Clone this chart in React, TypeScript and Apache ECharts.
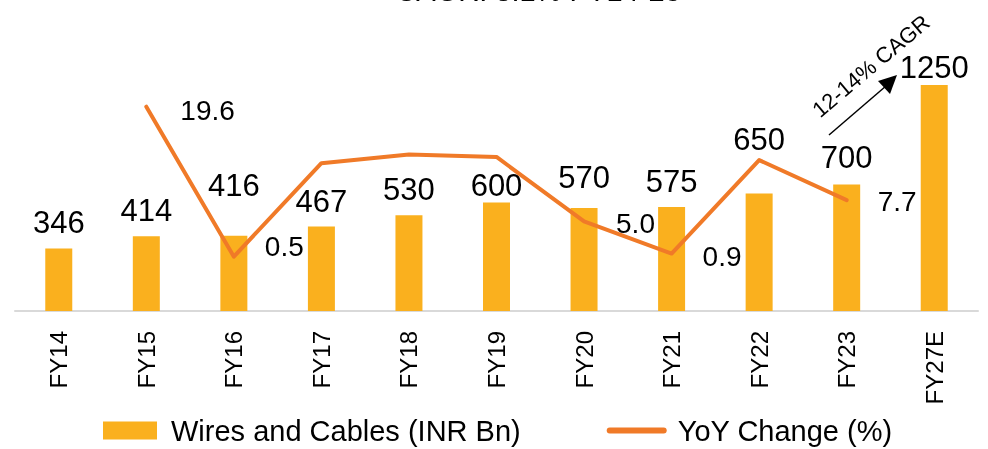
import React, { useEffect, useRef } from "react";
import * as echarts from "echarts";

const categories = ["FY14", "FY15", "FY16", "FY17", "FY18", "FY19", "FY20", "FY21", "FY22", "FY23", "FY27E"];
const marketSize = [346, 414, 416, 467, 530, 600, 570, 575, 650, 700, 1250];
const yoyChange: (number | null)[] = [null, 19.6, 0.5, 12.4, 13.5, 13.2, 5.0, 0.9, 12.8, 7.7, null];
const yoyLabelled = [false, true, true, false, false, false, true, true, false, true, false];

// label placement tweaks (pixels), separate from the data
const barLabelGap = [10, 10, 35, 10, 10, 2, 15, 10, 39, 12, 2];
const yoyLabelOffset: [number, number][] = [
  [0, 0], [3, 4], [0, -10], [0, 0], [0, 0], [0, 0], [1, 2], [0, 3], [0, 0], [0, 1], [0, 0],
];

const FONT = "'Liberation Sans', Arial, Helvetica, sans-serif";
const BAR_COLOR = "#FAB01E";
const LINE_COLOR = "#F07A28";

export default function App() {
  const ref = useRef<HTMLDivElement>(null);

  useEffect(() => {
    if (!ref.current) return;
    const chart = echarts.init(ref.current, undefined, { renderer: "svg" });

    const barData = marketSize.map((v, i) => ({
      value: v,
      label: { distance: barLabelGap[i] },
    }));
    const lineData = yoyChange.map((v, i) => ({
      value: v,
      label: {
        show: yoyLabelled[i],
        offset: yoyLabelOffset[i],
      },
    }));

    chart.setOption({
      animation: false,
      textStyle: { fontFamily: FONT },
      grid: { left: 15, right: 10, top: 58, bottom: 138, containLabel: false },
      legend: {
        left: 98,
        top: 411,
        itemGap: 86,
        itemWidth: 54,
        itemHeight: 18,
        lineStyle: { width: 6, cap: "round" },
        textStyle: { fontSize: 29, color: "#000", fontFamily: FONT, padding: [0, 0, 0, 9] },
        data: [
          { name: "Wires and Cables (INR Bn)", icon: "rect" },
          {
            name: "YoY Change (%)",
            itemStyle: { opacity: 0 },
            lineStyle: { width: 6, cap: "round", color: LINE_COLOR },
          },
        ],
      },
      xAxis: {
        type: "category",
        data: categories,
        axisLine: { show: true, lineStyle: { color: "#D9D9D9", width: 2 } },
        axisTick: { show: false },
        axisLabel: {
          rotate: 90,
          fontSize: 24,
          color: "#000",
          margin: 20,
          fontFamily: FONT,
          interval: 0,
        },
      },
      yAxis: [
        { type: "value", min: 0, max: 1400, show: false, splitLine: { show: false } },
        { type: "value", min: -6.42, max: 25.8, show: false, splitLine: { show: false } },
      ],
      series: [
        {
          name: "Wires and Cables (INR Bn)",
          type: "bar",
          yAxisIndex: 0,
          barWidth: 27,
          itemStyle: { color: BAR_COLOR },
          label: {
            show: true,
            position: "top",
            fontSize: 31,
            color: "#000",
            fontFamily: FONT,
          },
          data: barData,
        },
        {
          name: "YoY Change (%)",
          type: "line",
          yAxisIndex: 1,
          symbol: "circle",
          symbolSize: 2,
          showSymbol: true,
          connectNulls: false,
          lineStyle: { color: LINE_COLOR, width: 4, cap: "round", join: "round" },
          itemStyle: { color: LINE_COLOR },
          label: {
            show: false,
            position: "right",
            distance: 30,
            fontSize: 28,
            color: "#000",
            fontFamily: FONT,
            formatter: (p: any) => Number(p.value).toFixed(1),
          },
          data: lineData,
        },
      ],
      graphic: [
        {
          type: "text",
          x: 538,
          y: -9,
          style: {
            text: "CAGR: 8.1% FY14-23",
            fontSize: 29,
            fontFamily: FONT,
            fill: "#000",
            align: "center",
            verticalAlign: "middle",
          },
        },
        {
          type: "line",
          shape: { x1: 829, y1: 135, x2: 886, y2: 86 },
          style: { stroke: "#000", lineWidth: 1.5 },
        },
        {
          type: "polygon",
          shape: { points: [[897, 75], [878, 81], [890, 94]] },
          style: { fill: "#000" },
        },
        {
          type: "text",
          x: 871,
          y: 66,
          rotation: 0.7,
          style: {
            text: "12-14% CAGR",
            fontSize: 22,
            fontFamily: FONT,
            fill: "#000",
            align: "center",
            verticalAlign: "middle",
          },
        },
      ],
    });

    return () => chart.dispose();
  }, []);

  return (
    <div
      ref={ref}
      style={{ position: "fixed", left: 0, top: 0, width: 988, height: 449 }}
    />
  );
}
